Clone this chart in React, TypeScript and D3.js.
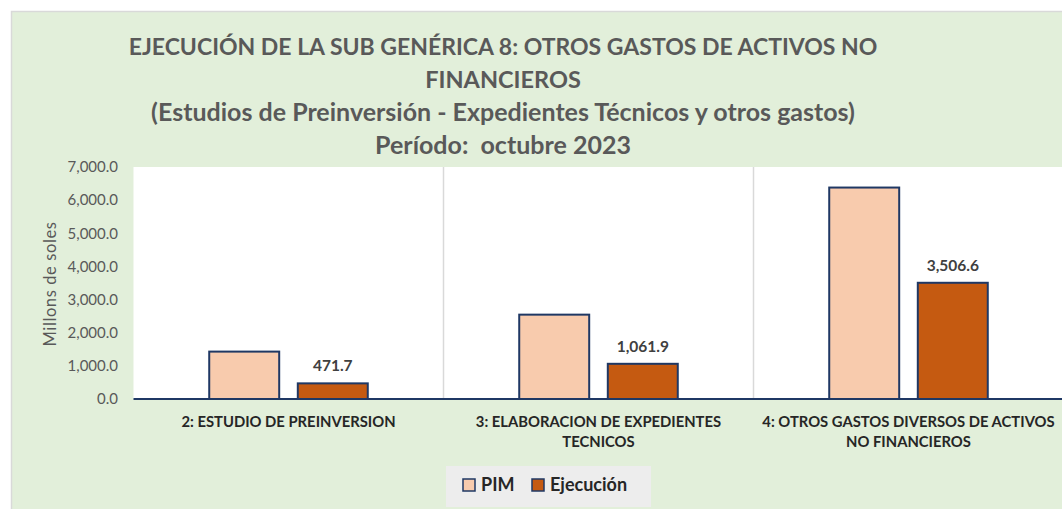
import React from "react";
import * as d3 from "d3";

// chart values
const categories = ["cat2", "cat3", "cat4"];
const categoryLines = [
  ["2: ESTUDIO DE PREINVERSION"],
  ["3: ELABORACION DE EXPEDIENTES", "TECNICOS"],
  ["4: OTROS GASTOS DIVERSOS DE ACTIVOS", "NO FINANCIEROS"],
];
const series = ["PIM", "Ejecución"];
const pimValues = [1430, 2545, 6380];
const ejecValues = [471.7, 1061.9, 3506.6];
const yTicks = [0, 1000, 2000, 3000, 4000, 5000, 6000, 7000];
const titleLines = [
  "EJECUCIÓN DE LA SUB GENÉRICA 8: OTROS GASTOS DE ACTIVOS NO",
  "FINANCIEROS",
  "(Estudios de Preinversión - Expedientes Técnicos y otros gastos)",
  "Período:  octubre 2023",
];
const titleSizes = [23, 23.5, 25, 25];

const W = 1062;
const H = 509;
const FONT = "Lato, 'Open Sans', sans-serif";
const colors: Record<string, string> = { PIM: "#F8CBAD", "Ejecución": "#C55A11" };
const stroke = "#1F3864";

export default function App() {
  const plot = { left: 133.5, right: 1063.5, top: 167, bottom: 399 };

  const x0 = d3.scaleBand().domain(categories).range([plot.left, plot.right]).padding(0);
  const x1 = d3
    .scaleBand()
    .domain(series)
    .range([0, x0.bandwidth()])
    .paddingInner(0.21)
    .paddingOuter(0.855);
  const y = d3.scaleLinear().domain([0, 7000]).range([plot.bottom, plot.top]);
  const fmt = d3.format(",.1f");

  const rows = categories.map((c, i) => ({ cat: c, PIM: pimValues[i], "Ejecución": ejecValues[i] }));

  return (
    <svg
      width={W}
      height={H}
      style={{ position: "absolute", left: 0, top: 0, display: "block" }}
      fontFamily={FONT}
    >
      <rect x={0} y={0} width={W} height={H} fill="#ffffff" />
      {/* panel */}
      <rect x={11.5} y={11.5} width={W + 20} height={H + 20} fill="#E2EFDA" stroke="#D9D9D9" strokeWidth={1.5} />

      {/* title */}
      {titleLines.map((t, i) => (
        <text
          key={i}
          x={503}
          y={55 + i * 33}
          textAnchor="middle"
          fontSize={titleSizes[i]}
          fontWeight="bold"
          fill="#595959"
          style={{ whiteSpace: "pre" }}
        >
          {t}
        </text>
      ))}

      {/* plot area */}
      <rect x={plot.left} y={plot.top} width={plot.right - plot.left} height={plot.bottom - plot.top} fill="#ffffff" />

      {/* category separators */}
      {categories.slice(1).map((c) => (
        <line
          key={c}
          x1={x0(c)!}
          x2={x0(c)!}
          y1={plot.top}
          y2={plot.bottom}
          stroke="#D9D9D9"
          strokeWidth={1.5}
        />
      ))}

      {/* y axis labels */}
      {yTicks.map((t) => (
        <text
          key={t}
          x={118}
          y={y(t)}
          dy="0.35em"
          textAnchor="end"
          fontSize={15}
          fill="#595959"
        >
          {fmt(t)}
        </text>
      ))}
      <text
        transform={`translate(50, 284) rotate(-90)`}
        textAnchor="middle"
        dy="0.35em"
        fontSize={16.5}
        letterSpacing={0.6}
        fill="#595959"
      >
        Millons de soles
      </text>

      {/* bars */}
      {rows.map((r) => (
        <g key={r.cat} transform={`translate(${x0(r.cat)}, 0)`}>
          {series.map((s) => (
            <rect
              key={s}
              x={x1(s)!}
              y={y((r as any)[s])}
              width={x1.bandwidth()}
              height={plot.bottom - y((r as any)[s])}
              fill={colors[s]}
              stroke={stroke}
              strokeWidth={2}
            />
          ))}
          <text
            x={x1("Ejecución")! + x1.bandwidth() / 2}
            y={y(r["Ejecución"]) - 12}
            textAnchor="middle"
            fontSize={15.5}
            fontWeight="bold"
            fill="#404040"
          >
            {fmt(r["Ejecución"])}
          </text>
        </g>
      ))}

      {/* x axis line */}
      <line x1={plot.left} x2={plot.right} y1={plot.bottom} y2={plot.bottom} stroke={stroke} strokeWidth={2} />

      {/* category labels */}
      {categories.map((c, i) => (
        <text
          key={c}
          x={x0(c)! + x0.bandwidth() / 2}
          y={427}
          textAnchor="middle"
          fontSize={14.8}
          fontWeight="bold"
          fill="#262626"
        >
          {categoryLines[i].map((l, j) => (
            <tspan key={j} x={x0(c)! + x0.bandwidth() / 2} dy={j === 0 ? 0 : 20}>
              {l}
            </tspan>
          ))}
        </text>
      ))}

      {/* legend */}
      <rect x={446} y={466} width={205} height={41} fill="#EDEDED" />
      {series.map((s, i) => {
        const lx = i === 0 ? 463 : 532;
        return (
          <g key={s}>
            <rect x={lx} y={479} width={12} height={12} fill={colors[s]} stroke={stroke} strokeWidth={1.5} />
            <text x={lx + 18} y={485} dy="0.36em" fontSize={18} fontWeight="bold" fill="#262626">
              {s}
            </text>
          </g>
        );
      })}
    </svg>
  );
}
